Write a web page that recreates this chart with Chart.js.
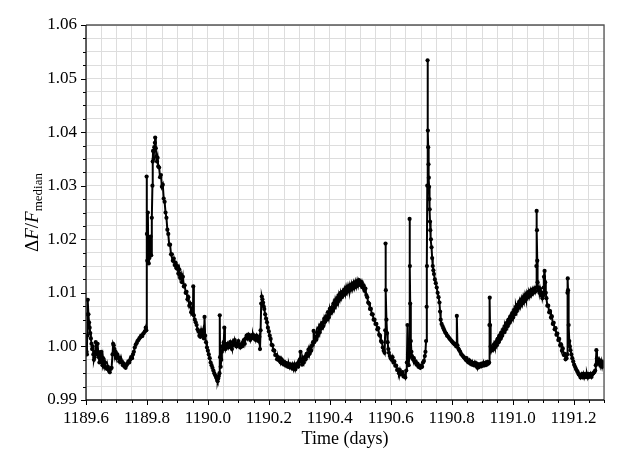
<!DOCTYPE html>
<html>
<head>
<meta charset="utf-8">
<script src="https://cdn.jsdelivr.net/npm/chart.js@4.4.0/dist/chart.umd.min.js"></script>
<style>
  html, body { margin: 0; padding: 0; background: #fff; }
  #wrap { width: 623px; height: 467px; }
</style>
</head>
<body>
<div id="wrap"><canvas id="lightCurve" width="623" height="467"></canvas></div>
<script>
// light curve in pieces
// quiescent start
const t1 = [1189.600, 1189.602, 1189.603, 1189.604, 1189.605, 1189.606, 1189.608, 1189.610, 1189.612, 1189.614,
  1189.616, 1189.618, 1189.620, 1189.622, 1189.624, 1189.626, 1189.628, 1189.630, 1189.632, 1189.634,
  1189.636, 1189.638, 1189.640, 1189.642, 1189.644, 1189.646, 1189.648, 1189.650, 1189.652, 1189.654,
  1189.656, 1189.658, 1189.660, 1189.663, 1189.666, 1189.669, 1189.672, 1189.675, 1189.678, 1189.681,
  1189.684, 1189.687, 1189.689, 1189.691, 1189.693, 1189.695, 1189.697, 1189.700, 1189.703, 1189.706,
  1189.709, 1189.712, 1189.715, 1189.718, 1189.721, 1189.724, 1189.727, 1189.730, 1189.733, 1189.736,
  1189.739, 1189.742, 1189.745, 1189.748, 1189.751, 1189.754, 1189.757, 1189.760, 1189.763, 1189.766,
  1189.769, 1189.772, 1189.775, 1189.778, 1189.781, 1189.784, 1189.787, 1189.790, 1189.793, 1189.796,
  1189.798];
const f1 = [0.9995, 0.9990, 0.9985, 1.0020, 1.0060, 1.0087, 1.0060, 1.0045, 1.0035, 1.0025,
  1.0015, 1.0005, 0.9995, 1.0000, 0.9985, 0.9975, 0.9980, 0.9990, 1.0008, 0.9995,
  0.9985, 1.0005, 0.9990, 0.9980, 0.9970, 0.9985, 0.9975, 0.9990, 0.9970, 0.9965,
  0.9978, 0.9968, 0.9962, 0.9970, 0.9960, 0.9958, 0.9962, 0.9955, 0.9952, 0.9958,
  0.9960, 0.9985, 1.0005, 1.0002, 0.9995, 0.9985, 0.9990, 0.9978, 0.9985, 0.9980,
  0.9972, 0.9978, 0.9970, 0.9972, 0.9965, 0.9968, 0.9962, 0.9960, 0.9965, 0.9968,
  0.9972, 0.9970, 0.9975, 0.9980, 0.9978, 0.9985, 0.9990, 0.9998, 1.0003, 1.0006,
  1.0010, 1.0012, 1.0015, 1.0017, 1.0020, 1.0019, 1.0023, 1.0025, 1.0028, 1.0035,
  1.0030];

// first big flare and its decay
const t2 = [1189.799, 1189.800, 1189.801, 1189.803, 1189.804, 1189.806, 1189.808, 1189.810, 1189.812, 1189.814,
  1189.816, 1189.818, 1189.819, 1189.820, 1189.822, 1189.824, 1189.826, 1189.827, 1189.829, 1189.831,
  1189.833, 1189.835, 1189.837, 1189.840, 1189.843, 1189.846, 1189.849, 1189.852, 1189.855, 1189.858,
  1189.861, 1189.864, 1189.867, 1189.870, 1189.873, 1189.876, 1189.879, 1189.882, 1189.885, 1189.888,
  1189.891, 1189.894, 1189.897, 1189.900, 1189.903, 1189.906, 1189.909, 1189.912, 1189.915, 1189.918,
  1189.921, 1189.924, 1189.927, 1189.930, 1189.933, 1189.936, 1189.939, 1189.942, 1189.945, 1189.948,
  1189.951, 1189.952, 1189.954, 1189.957, 1189.960, 1189.963, 1189.966, 1189.969, 1189.972, 1189.975,
  1189.978, 1189.981, 1189.984, 1189.987, 1189.989, 1189.991, 1189.994, 1189.997, 1190.000, 1190.003,
  1190.006, 1190.009, 1190.012, 1190.015, 1190.018, 1190.021, 1190.024, 1190.027, 1190.030, 1190.032,
  1190.034, 1190.036, 1190.038];
const f2 = [1.0317, 1.0210, 1.0160, 1.0250, 1.0200, 1.0155, 1.0165, 1.0180, 1.0205, 1.0170,
  1.0240, 1.0300, 1.0345, 1.0365, 1.0350, 1.0372, 1.0380, 1.0390, 1.0370, 1.0355,
  1.0345, 1.0352, 1.0336, 1.0334, 1.0316, 1.0320, 1.0298, 1.0302, 1.0276, 1.0270,
  1.0250, 1.0240, 1.0218, 1.0210, 1.0190, 1.0190, 1.0172, 1.0172, 1.0160, 1.0164,
  1.0152, 1.0156, 1.0146, 1.0150, 1.0136, 1.0144, 1.0128, 1.0134, 1.0120, 1.0130,
  1.0112, 1.0114, 1.0100, 1.0102, 1.0088, 1.0092, 1.0076, 1.0080, 1.0064, 1.0070,
  1.0060, 1.0112, 1.0058, 1.0050, 1.0045, 1.0040, 1.0032, 1.0028, 1.0020, 1.0018,
  1.0030, 1.0022, 1.0030, 1.0015, 1.0055, 1.0020, 1.0008, 0.9998, 0.9992, 0.9985,
  0.9978, 0.9970, 0.9965, 0.9960, 0.9955, 0.9950, 0.9946, 0.9942, 0.9938, 0.9935,
  0.9940, 0.9945, 0.9950];

// plateau and the small flare near 1190.18
const t3 = [1190.039, 1190.040, 1190.042, 1190.044, 1190.046, 1190.048, 1190.050, 1190.052, 1190.054, 1190.056,
  1190.058, 1190.061, 1190.064, 1190.067, 1190.070, 1190.073, 1190.076, 1190.079, 1190.082, 1190.085,
  1190.088, 1190.091, 1190.094, 1190.097, 1190.100, 1190.103, 1190.106, 1190.109, 1190.112, 1190.115,
  1190.118, 1190.121, 1190.124, 1190.127, 1190.130, 1190.133, 1190.136, 1190.139, 1190.142, 1190.145,
  1190.148, 1190.151, 1190.154, 1190.157, 1190.160, 1190.163, 1190.166, 1190.169, 1190.171, 1190.173,
  1190.175, 1190.177, 1190.179, 1190.181, 1190.183, 1190.185, 1190.188, 1190.191, 1190.194, 1190.197,
  1190.200, 1190.203, 1190.206, 1190.209, 1190.212, 1190.215, 1190.218, 1190.221, 1190.224, 1190.227,
  1190.230, 1190.233, 1190.236, 1190.239, 1190.242, 1190.245, 1190.248, 1190.251, 1190.254, 1190.257,
  1190.260, 1190.263, 1190.266, 1190.269, 1190.272, 1190.275, 1190.278, 1190.281, 1190.284, 1190.287,
  1190.290, 1190.293, 1190.296, 1190.299, 1190.302, 1190.304, 1190.306, 1190.309, 1190.312, 1190.315,
  1190.318, 1190.321, 1190.324, 1190.327, 1190.330, 1190.333, 1190.336, 1190.339, 1190.342, 1190.345];
const f3 = [1.0058, 0.9980, 0.9962, 0.9975, 0.9990, 1.0000, 0.9995, 1.0008, 1.0035, 1.0005,
  0.9995, 1.0000, 1.0005, 0.9998, 1.0003, 1.0008, 1.0000, 0.9995, 1.0008, 1.0003,
  1.0012, 1.0005, 1.0000, 1.0006, 1.0010, 1.0002, 0.9998, 1.0004, 1.0000, 1.0008,
  1.0012, 1.0005, 1.0015, 1.0020, 1.0015, 1.0022, 1.0018, 1.0012, 1.0020, 1.0016,
  1.0022, 1.0015, 1.0018, 1.0012, 1.0020, 1.0015, 1.0010, 1.0018, 0.9995, 1.0030,
  1.0080, 1.0093, 1.0088, 1.0082, 1.0075, 1.0070, 1.0060, 1.0052, 1.0045, 1.0035,
  1.0028, 1.0020, 1.0014, 1.0003, 1.0002, 0.9993, 0.9992, 0.9984, 0.9984, 0.9976,
  0.9980, 0.9974, 0.9978, 0.9970, 0.9976, 0.9968, 0.9972, 0.9966, 0.9970, 0.9964,
  0.9968, 0.9962, 0.9967, 0.9961, 0.9966, 0.9960, 0.9966, 0.9958, 0.9966, 0.9957,
  0.9963, 0.9968, 0.9962, 0.9972, 0.9976, 0.9990, 0.9972, 0.9966, 0.9976, 0.9970,
  0.9980, 0.9976, 0.9986, 0.9982, 0.9994, 0.9986, 0.9998, 0.9992, 1.0002, 1.0008];

// slow rise to the hump at 1190.5
const t4 = [1190.347, 1190.349, 1190.352, 1190.355, 1190.358, 1190.361, 1190.364, 1190.367, 1190.370, 1190.373,
  1190.376, 1190.379, 1190.382, 1190.385, 1190.388, 1190.391, 1190.394, 1190.397, 1190.400, 1190.403,
  1190.406, 1190.409, 1190.412, 1190.415, 1190.418, 1190.421, 1190.424, 1190.427, 1190.430, 1190.433,
  1190.436, 1190.439, 1190.442, 1190.445, 1190.448, 1190.451, 1190.454, 1190.457, 1190.460, 1190.463,
  1190.466, 1190.469, 1190.472, 1190.475, 1190.478, 1190.481, 1190.484, 1190.487, 1190.490, 1190.493,
  1190.496, 1190.499, 1190.502, 1190.505, 1190.508, 1190.511, 1190.514, 1190.517, 1190.520, 1190.523,
  1190.526, 1190.529, 1190.532, 1190.535, 1190.538, 1190.541, 1190.544, 1190.547, 1190.550, 1190.553,
  1190.556, 1190.559, 1190.562, 1190.565, 1190.568, 1190.571, 1190.574, 1190.577, 1190.580];
const f4 = [1.0029, 1.0008, 1.0018, 1.0012, 1.0026, 1.0020, 1.0034, 1.0026, 1.0040, 1.0034,
  1.0044, 1.0038, 1.0052, 1.0046, 1.0056, 1.0050, 1.0064, 1.0054, 1.0070, 1.0062,
  1.0072, 1.0066, 1.0080, 1.0072, 1.0086, 1.0078, 1.0090, 1.0084, 1.0096, 1.0088,
  1.0100, 1.0092, 1.0102, 1.0096, 1.0106, 1.0098, 1.0110, 1.0102, 1.0112, 1.0104,
  1.0114, 1.0106, 1.0116, 1.0108, 1.0118, 1.0110, 1.0120, 1.0112, 1.0122, 1.0114,
  1.0124, 1.0121, 1.0114, 1.0120, 1.0110, 1.0114, 1.0104, 1.0108, 1.0096, 1.0092,
  1.0082, 1.0080, 1.0070, 1.0070, 1.0060, 1.0060, 1.0050, 1.0050, 1.0042, 1.0042,
  1.0032, 1.0034, 1.0022, 1.0020, 1.0010, 1.0008, 0.9998, 0.9992, 0.9988];

// two narrow flares in the dip
const t5 = [1190.582, 1190.583, 1190.584, 1190.586, 1190.588, 1190.590, 1190.592, 1190.594, 1190.597, 1190.600,
  1190.603, 1190.606, 1190.609, 1190.612, 1190.615, 1190.618, 1190.621, 1190.624, 1190.627, 1190.630,
  1190.633, 1190.636, 1190.639, 1190.642, 1190.645, 1190.648, 1190.651, 1190.653, 1190.655, 1190.657,
  1190.659, 1190.661, 1190.662, 1190.663, 1190.664, 1190.666, 1190.668, 1190.670, 1190.673, 1190.676,
  1190.679, 1190.682, 1190.685, 1190.688, 1190.691, 1190.694, 1190.697, 1190.700, 1190.703, 1190.706,
  1190.709, 1190.712, 1190.714, 1190.716];
const f5 = [1.0030, 1.0192, 1.0105, 1.0050, 1.0025, 1.0008, 0.9995, 0.9988, 0.9982, 0.9978,
  0.9975, 0.9980, 0.9970, 0.9972, 0.9964, 0.9964, 0.9956, 0.9957, 0.9950, 0.9956,
  0.9948, 0.9950, 0.9952, 0.9944, 0.9946, 0.9942, 0.9955, 0.9970, 1.0040, 0.9985,
  0.9965, 0.9980, 1.0238, 1.0150, 1.0080, 1.0010, 0.9990, 0.9982, 0.9976, 0.9978,
  0.9970, 0.9972, 0.9966, 0.9968, 0.9962, 0.9964, 0.9960, 0.9964, 0.9962, 0.9970,
  0.9973, 0.9982, 0.9990, 1.0010];

// the tallest flare
const t6 = [1190.718, 1190.719, 1190.720, 1190.721, 1190.722, 1190.723, 1190.724, 1190.725, 1190.726, 1190.727,
  1190.728, 1190.729, 1190.730, 1190.732, 1190.734, 1190.736, 1190.738, 1190.740, 1190.742, 1190.745,
  1190.748, 1190.751, 1190.754, 1190.757, 1190.760, 1190.762, 1190.764, 1190.767, 1190.770, 1190.773,
  1190.776, 1190.779, 1190.782, 1190.785, 1190.788, 1190.791, 1190.794, 1190.797, 1190.800, 1190.803,
  1190.806, 1190.809, 1190.812, 1190.815, 1190.817, 1190.819, 1190.822, 1190.825, 1190.828, 1190.831,
  1190.834, 1190.837, 1190.840, 1190.843, 1190.846, 1190.849, 1190.852, 1190.855, 1190.858, 1190.861,
  1190.864, 1190.867, 1190.870, 1190.873, 1190.876, 1190.879, 1190.882, 1190.885, 1190.888, 1190.891,
  1190.894, 1190.897, 1190.900, 1190.903, 1190.906, 1190.909, 1190.912, 1190.915, 1190.918, 1190.921,
  1190.923];
const f6 = [1.0074, 1.0150, 1.0300, 1.0534, 1.0403, 1.0372, 1.0340, 1.0315, 1.0298, 1.0275,
  1.0256, 1.0233, 1.0217, 1.0200, 1.0185, 1.0165, 1.0150, 1.0142, 1.0135, 1.0125,
  1.0118, 1.0110, 1.0100, 1.0092, 1.0082, 1.0065, 1.0050, 1.0042, 1.0038, 1.0034,
  1.0030, 1.0026, 1.0024, 1.0020, 1.0019, 1.0016, 1.0014, 1.0012, 1.0010, 1.0008,
  1.0006, 1.0004, 1.0005, 1.0000, 1.0057, 1.0002, 0.9996, 0.9993, 0.9990, 0.9986,
  0.9984, 0.9982, 0.9980, 0.9978, 0.9975, 0.9978, 0.9972, 0.9970, 0.9974, 0.9968,
  0.9971, 0.9966, 0.9969, 0.9965, 0.9970, 0.9964, 0.9968, 0.9960, 0.9966, 0.9962,
  0.9967, 0.9963, 0.9968, 0.9964, 0.9969, 0.9965, 0.9970, 0.9966, 0.9971, 0.9968,
  0.9970];

// second hump with flares near 1191.08
const t7 = [1190.924, 1190.925, 1190.926, 1190.928, 1190.930, 1190.933, 1190.936, 1190.939, 1190.942, 1190.945,
  1190.948, 1190.951, 1190.954, 1190.957, 1190.960, 1190.963, 1190.966, 1190.969, 1190.972, 1190.975,
  1190.978, 1190.981, 1190.984, 1190.987, 1190.990, 1190.993, 1190.996, 1190.999, 1191.002, 1191.005,
  1191.008, 1191.011, 1191.014, 1191.017, 1191.020, 1191.023, 1191.026, 1191.029, 1191.032, 1191.035,
  1191.038, 1191.041, 1191.044, 1191.047, 1191.050, 1191.053, 1191.056, 1191.059, 1191.062, 1191.065,
  1191.068, 1191.071, 1191.074, 1191.077, 1191.078, 1191.079, 1191.080, 1191.081, 1191.082, 1191.084,
  1191.086, 1191.088, 1191.090, 1191.092, 1191.094, 1191.096, 1191.098, 1191.100, 1191.102, 1191.103,
  1191.105, 1191.107, 1191.109, 1191.111, 1191.114, 1191.117, 1191.120, 1191.123, 1191.126, 1191.129,
  1191.132, 1191.135, 1191.138, 1191.141, 1191.144, 1191.147, 1191.150, 1191.153, 1191.156, 1191.159,
  1191.162, 1191.165, 1191.168, 1191.171, 1191.174, 1191.177];
const f7 = [1.0040, 1.0091, 1.0040, 1.0000, 0.9992, 0.9998, 0.9994, 1.0004, 0.9998, 1.0008,
  1.0002, 1.0014, 1.0008, 1.0020, 1.0014, 1.0026, 1.0020, 1.0032, 1.0026, 1.0038,
  1.0032, 1.0044, 1.0038, 1.0050, 1.0044, 1.0056, 1.0050, 1.0062, 1.0054, 1.0068,
  1.0060, 1.0074, 1.0066, 1.0078, 1.0072, 1.0084, 1.0076, 1.0088, 1.0080, 1.0092,
  1.0084, 1.0096, 1.0088, 1.0099, 1.0092, 1.0102, 1.0094, 1.0104, 1.0097, 1.0106,
  1.0100, 1.0108, 1.0102, 1.0110, 1.0150, 1.0253, 1.0217, 1.0160, 1.0120, 1.0105,
  1.0110, 1.0100, 1.0108, 1.0102, 1.0095, 1.0100, 1.0090, 1.0095, 1.0110, 1.0130,
  1.0141, 1.0120, 1.0100, 1.0090, 1.0076, 1.0076, 1.0064, 1.0066, 1.0054, 1.0056,
  1.0042, 1.0044, 1.0032, 1.0034, 1.0022, 1.0024, 1.0012, 1.0014, 1.0002, 1.0004,
  0.9992, 0.9996, 0.9984, 0.9986, 0.9976, 0.9978];

// last flare and the flat tail
const t8 = [1191.179, 1191.180, 1191.181, 1191.182, 1191.184, 1191.186, 1191.188, 1191.190, 1191.193, 1191.196,
  1191.199, 1191.202, 1191.205, 1191.208, 1191.211, 1191.214, 1191.217, 1191.220, 1191.223, 1191.226,
  1191.229, 1191.232, 1191.235, 1191.238, 1191.241, 1191.244, 1191.247, 1191.250, 1191.253, 1191.256,
  1191.259, 1191.262, 1191.265, 1191.268, 1191.271, 1191.273, 1191.275, 1191.277, 1191.279, 1191.282,
  1191.285, 1191.288, 1191.291, 1191.294, 1191.297, 1191.300];
const f8 = [0.9985, 1.0100, 1.0127, 1.0105, 1.0040, 1.0010, 1.0000, 0.9993, 0.9985, 0.9978,
  0.9972, 0.9966, 0.9962, 0.9958, 0.9955, 0.9952, 0.9948, 0.9946, 0.9942, 0.9948,
  0.9943, 0.9949, 0.9942, 0.9948, 0.9943, 0.9949, 0.9942, 0.9948, 0.9944, 0.9949,
  0.9943, 0.9948, 0.9950, 0.9952, 0.9955, 0.9965, 0.9993, 0.9978, 0.9970, 0.9968,
  0.9974, 0.9964, 0.9972, 0.9962, 0.9970, 0.9964];

// axes
const xLabels = ['1189.6', '1189.8', '1190.0', '1190.2', '1190.4', '1190.6', '1190.8', '1191.0', '1191.2'];
const yLabels = ['0.99', '1.00', '1.01', '1.02', '1.03', '1.04', '1.05', '1.06'];
const xMin = 1189.6, xMax = 1191.3, xMinor = 0.05;
const yMin = 0.99, yMax = 1.06, yMinor = 0.0025;

const serif = '"Liberation Serif", "DejaVu Serif", serif';

const times = [t1, t2, t3, t4, t5, t6, t7, t8].flat();
const flux = [f1, f2, f3, f4, f5, f6, f7, f8].flat();
const points = times.map((t, i) => ({ x: t, y: flux[i] }));

// 4 minor steps per labelled tick on both axes
const xIndex = v => Math.round((v - xMin) / xMinor);
const yIndex = v => Math.round((v - yMin) / yMinor);

// frame, outward tick marks and the axis titles (with subscript)
const decorations = {
    id: 'decorations',
    afterDraw(chart) {
        const { ctx, chartArea: a, scales: { x, y } } = chart;
        ctx.save();

        ctx.strokeStyle = '#000';
        ctx.lineWidth = 1;
        ctx.beginPath();
        x.ticks.forEach(t => {
            const px = Math.round(x.getPixelForValue(t.value)) + 0.5;
            const len = xIndex(t.value) % 4 === 0 ? 5 : 3;
            ctx.moveTo(px, a.bottom);
            ctx.lineTo(px, a.bottom + len);
        });
        y.ticks.forEach(t => {
            const py = Math.round(y.getPixelForValue(t.value)) + 0.5;
            const len = yIndex(t.value) % 4 === 0 ? 5 : 3;
            ctx.moveTo(a.left, py);
            ctx.lineTo(a.left - len, py);
        });
        ctx.stroke();

        // top and right in grey, left and bottom in black
        ctx.lineWidth = 1.3;
        ctx.strokeStyle = '#555';
        ctx.beginPath();
        ctx.moveTo(a.left, a.top);
        ctx.lineTo(a.right, a.top);
        ctx.lineTo(a.right, a.bottom);
        ctx.stroke();
        ctx.strokeStyle = '#111';
        ctx.beginPath();
        ctx.moveTo(a.left, a.top);
        ctx.lineTo(a.left, a.bottom);
        ctx.lineTo(a.right, a.bottom);
        ctx.stroke();

        ctx.fillStyle = '#000';
        ctx.textBaseline = 'alphabetic';

        // x title
        ctx.font = '18px ' + serif;
        ctx.textAlign = 'center';
        ctx.fillText('Time (days)', (a.left + a.right) / 2, 444);

        // y title: ΔF/F with subscript "median"
        ctx.textAlign = 'left';
        const parts = [
            { s: '\u0394', font: '19px ' + serif, dy: 0 },
            { s: 'F', font: 'italic 19px ' + serif, dy: 0 },
            { s: '/', font: '19px ' + serif, dy: 0 },
            { s: 'F', font: 'italic 19px ' + serif, dy: 0 },
            { s: 'median', font: '13px ' + serif, dy: 4 }
        ];
        let total = 0;
        parts.forEach(p => { ctx.font = p.font; p.w = ctx.measureText(p.s).width; total += p.w; });
        ctx.translate(38, (a.top + a.bottom) / 2);
        ctx.rotate(-Math.PI / 2);
        let cx = -total / 2;
        parts.forEach(p => {
            ctx.font = p.font;
            ctx.fillText(p.s, cx, p.dy);
            cx += p.w;
        });

        ctx.restore();
    }
};

new Chart(document.getElementById('lightCurve'), {
    type: 'scatter',
    data: {
        datasets: [{
            label: 'flux',
            data: points,
            showLine: true,
            borderColor: '#000',
            borderWidth: 2,
            backgroundColor: '#000',
            pointRadius: 2.1,
            pointBorderWidth: 0,
            pointHoverRadius: 2.1
        }]
    },
    options: {
        responsive: false,
        animation: false,
        devicePixelRatio: 1,
        layout: { padding: { left: 0, top: 25, right: 19, bottom: 0 } },
        plugins: { legend: { display: false }, tooltip: { enabled: false } },
        scales: {
            x: {
                type: 'linear',
                min: xMin,
                max: xMax,
                afterFit: s => { s.height = 67; },
                border: { display: false },
                grid: { color: '#dddddd', lineWidth: 1, drawTicks: false },
                ticks: {
                    stepSize: xMinor,
                    autoSkip: false,
                    maxRotation: 0,
                    padding: 8,
                    color: '#000',
                    font: { family: serif, size: 17 },
                    callback: v => {
                        const i = xIndex(v);
                        return i % 4 === 0 ? xLabels[i / 4] : '';
                    }
                }
            },
            y: {
                type: 'linear',
                min: yMin,
                max: yMax,
                afterFit: s => { s.width = 86; },
                border: { display: false },
                grid: { color: '#dddddd', lineWidth: 1, drawTicks: false },
                ticks: {
                    stepSize: yMinor,
                    autoSkip: false,
                    padding: 9,
                    color: '#000',
                    font: { family: serif, size: 17 },
                    callback: v => {
                        const i = yIndex(v);
                        return i % 4 === 0 ? yLabels[i / 4] : '';
                    }
                }
            }
        }
    },
    plugins: [decorations]
});
</script>
</body>
</html>
